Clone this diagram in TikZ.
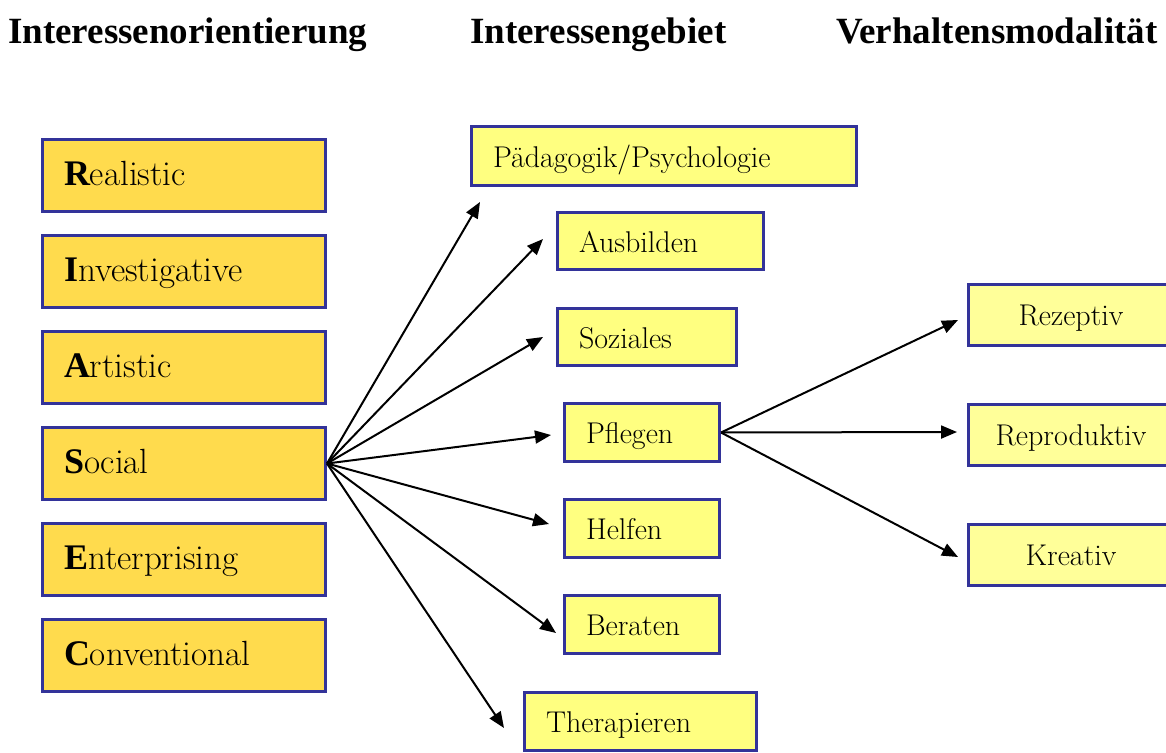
\documentclass[tikz,border=0pt]{standalone}
\usepackage{fontspec}
\setmainfont{Latin Modern Roman}
\newfontfamily\headfont{Liberation Serif}
\newcommand\riasecinit[1]{{\headfont\bfseries\fontsize{36}{40}\selectfont #1}}
\usetikzlibrary{arrows.meta}
\definecolor{frame}{RGB}{51,51,153}
\definecolor{gold}{RGB}{255,219,77}
\definecolor{pale}{RGB}{255,255,128}
\definecolor{paler}{RGB}{255,255,153}

\begin{document}
\begin{tikzpicture}[x=1pt,y=-1pt,
  box/.style={draw=frame, line width=3pt, rectangle, inner ysep=0pt, inner xsep=21.5pt},
  typebox/.style={box, fill=gold, align=left, text width=240pt, minimum height=72pt,
    font=\rmfamily\fontsize{35}{40}\selectfont, text height=25pt, text depth=6pt},
  fieldbox/.style={box, fill=pale, align=left, text width=#1,
    font=\rmfamily\fontsize{30}{36}\selectfont, text height=28pt, text depth=6pt},
  modebox/.style={box, fill=paler, align=center, minimum width=205pt, minimum height=61pt,
    font=\rmfamily\fontsize{30}{36}\selectfont, text height=26pt, text depth=6pt},
  head/.style={anchor=base west, inner sep=0pt, font=\headfont\fontsize{37}{40}\selectfont\bfseries},
  arr/.style={line width=2pt, -{Triangle[length=16pt,width=13pt]}}
]
\clip (0,0) rectangle (1166,752);

% column headings
\node[head] (h1) at (8,44)   {Interessenorientierung};
\node[head] (h2) at (470,44) {Interessengebiet};
\node[head] (h3) at (836,44) {Verhaltensmodalität};

% RIASEC orientations
\node[typebox] (real) at (184,175.5) {\riasecinit{R}ealistic};
\node[typebox] (inv)  at (184,271.5) {\riasecinit{I}nvestigative};
\node[typebox] (art)  at (184,367.5) {\riasecinit{A}rtistic};
\node[typebox] (soc)  at (184,463.5) {\riasecinit{S}ocial};
\node[typebox] (ent)  at (184,559.5) {\riasecinit{E}nterprising};
\node[typebox] (conv) at (184,655.5) {\riasecinit{C}onventional};

% social fields of interest
\node[fieldbox=342pt, minimum height=59pt] (paed) at (664,156)     {Pädagogik/Psychologie};
\node[fieldbox=163pt, minimum height=57pt] (ausb) at (660.5,241)   {Ausbilden};
\node[fieldbox=136pt, minimum height=57pt] (soz)  at (647,337)     {Soziales};
\node[fieldbox=112pt, minimum height=58pt] (pfl)  at (642,432.5)   {Pflegen};
\node[fieldbox=112pt, minimum height=58pt] (helf) at (642,528.5)   {Helfen};
\node[fieldbox=112pt, minimum height=58pt] (ber)  at (642,624.5)   {Beraten};
\node[fieldbox=189pt, minimum height=58pt] (ther) at (640.5,721.5) {Therapieren};

% behaviour modalities
\node[modebox] (rez)  at (1071,315) {Rezeptiv};
\node[modebox] (repr) at (1071,435) {Reproduktiv};
\node[modebox] (krea) at (1071,555) {Kreativ};

% arrow tips, just short of the target boxes
\coordinate (tPaed) at (480,202);
\coordinate (tAusb) at (543,239);
\coordinate (tSoz)  at (543,337);
\coordinate (tPfl)  at (551,435);
\coordinate (tHelf) at (549,524);
\coordinate (tBer)  at (556,633);
\coordinate (tTher) at (504,728);
\coordinate (tRez)  at (958,320);
\coordinate (tRepr) at (957,432);
\coordinate (tKrea) at (958,557);

\foreach \t in {tPaed,tAusb,tSoz,tPfl,tHelf,tBer,tTher}
  \draw[arr] (soc.east) -- (\t);
\foreach \t in {tRez,tRepr,tKrea}
  \draw[arr] (pfl.east) -- (\t);
\end{tikzpicture}
\end{document}
